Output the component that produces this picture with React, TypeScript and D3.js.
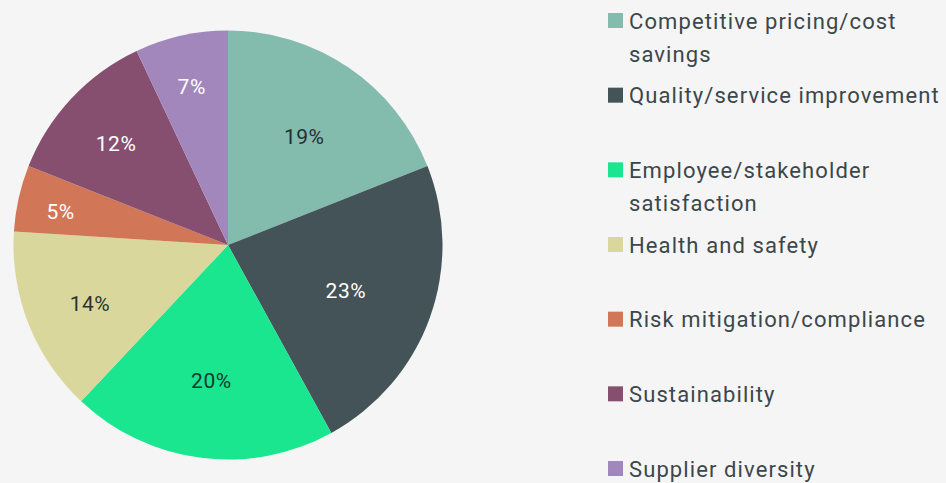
import React from "react";
import * as d3 from "d3";

const categories = [
  "Competitive pricing/cost savings",
  "Quality/service improvement",
  "Employee/stakeholder satisfaction",
  "Health and safety",
  "Risk mitigation/compliance",
  "Sustainability",
  "Supplier diversity",
];
const values = [19, 23, 20, 14, 5, 12, 7];
const colors = ["#83bbad", "#435357", "#19e68f", "#d9d79b", "#d27658", "#864f70", "#a287bd"];
const labelColors = ["#1e3036", "#ffffff", "#0f3a30", "#2a3535", "#ffffff", "#ffffff", "#ffffff"];

const W = 946;
const H = 483;
const FONT = "Roboto, 'DejaVu Sans', sans-serif";
const LEGEND_SPACING = 1.1;

let ctx: CanvasRenderingContext2D | null = null;
function measure(text: string, size: number) {
  if (!ctx) ctx = document.createElement("canvas").getContext("2d");
  if (!ctx) return text.length * size * 0.55;
  ctx.font = `${size}px Roboto`;
  return ctx.measureText(text).width + text.length * LEGEND_SPACING;
}
function wrap(text: string, maxW: number, size: number) {
  const words = text.split(" ");
  const lines: string[] = [];
  let cur = "";
  for (const w of words) {
    const t = cur ? cur + " " + w : w;
    if (cur && measure(t, size) > maxW) {
      lines.push(cur);
      cur = w;
    } else cur = t;
  }
  if (cur) lines.push(cur);
  return lines;
}

export default function App() {
  const cx = 228, cy = 245, R = 214.5;
  const pie = d3.pie<number>().sort(null).value((d) => d)(values);
  const arc = d3.arc<d3.PieArcDatum<number>>().innerRadius(0).outerRadius(R);
  const legendFont = 22;
  const legendX = 608;
  const legendY = d3.scalePoint<number>().domain(d3.range(categories.length)).range([20, 468]);
  return (
    <svg width={W} height={H} style={{ position: "absolute", left: 0, top: 0, background: "#f5f5f5" }}>
      <rect width={W} height={H} fill="#f5f5f5" />
      <g transform={`translate(${cx},${cy})`}>
        {pie.map((p, i) => (
          <path key={i} d={arc(p) || ""} fill={colors[i]} />
        ))}
        {pie.map((p, i) => {
          const mid = (p.startAngle + p.endAngle) / 2;
          const lr = R * (0.86 - 0.012 * values[i]);
          const x = Math.sin(mid) * lr;
          const y = -Math.cos(mid) * lr;
          return (
            <text key={i} x={x} y={y + 4} textAnchor="middle" dominantBaseline="central"
              fontFamily={FONT} fontSize={21} letterSpacing={0.5} fill={labelColors[i]}>
              {values[i]}%
            </text>
          );
        })}
      </g>
      <g>
        {categories.map((c, i) => {
          const y0 = legendY(i) as number;
          const lines = wrap(c, 318, legendFont);
          return (
            <g key={i}>
              <rect x={legendX} y={y0 - 7} width={15} height={15} fill={colors[i]} />
              {lines.map((l, j) => (
                <text key={j} x={legendX + 21} y={y0 + 1 + j * 33} dominantBaseline="central"
                  fontFamily={FONT} fontSize={legendFont} letterSpacing={LEGEND_SPACING} fill="#3b474b">
                  {l}
                </text>
              ))}
            </g>
          );
        })}
      </g>
    </svg>
  );
}
